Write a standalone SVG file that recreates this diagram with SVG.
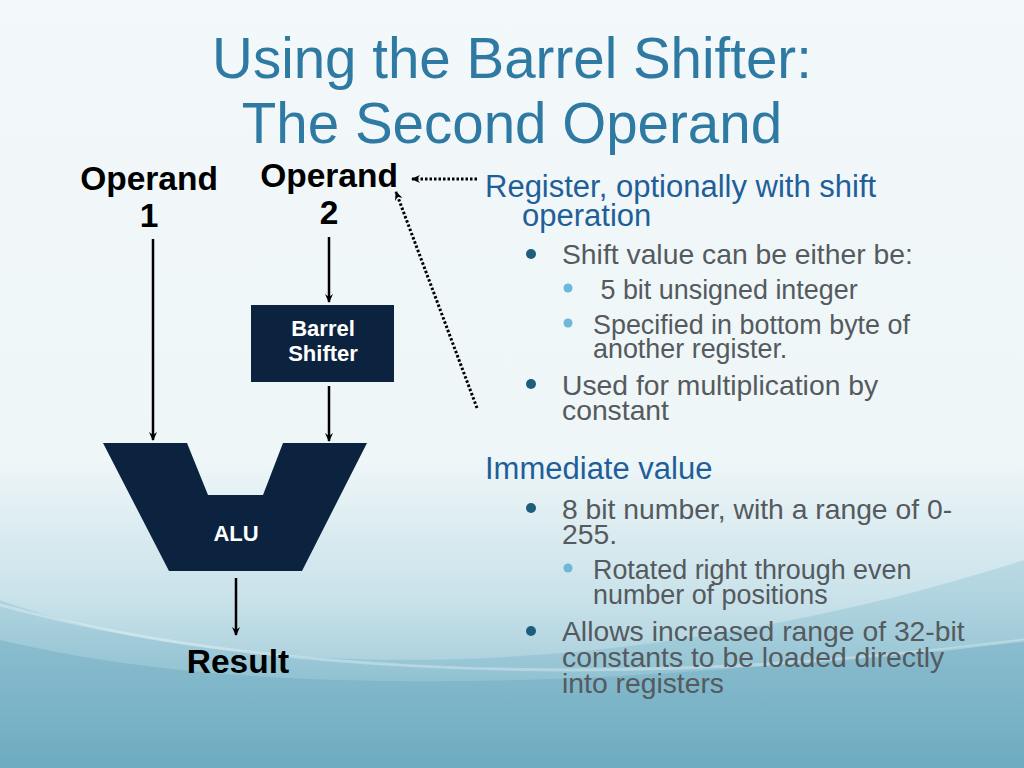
<svg xmlns="http://www.w3.org/2000/svg" width="1024" height="768" viewBox="0 0 1024 768">
<defs>
<linearGradient id="bg" x1="0" y1="0" x2="0" y2="1">
<stop offset="0" stop-color="#f3f8fa"/>
<stop offset="0.6" stop-color="#eef6f8"/>
<stop offset="0.78" stop-color="#c9e2ea"/>
<stop offset="1" stop-color="#7db6c9"/>
</linearGradient>
<linearGradient id="wave" x1="0" y1="0" x2="0" y2="1">
<stop offset="0" stop-color="#9cc9d8"/>
<stop offset="1" stop-color="#62a6bd"/>
</linearGradient>
<marker id="ah" markerWidth="10" markerHeight="10" refX="8" refY="5" orient="auto" markerUnits="userSpaceOnUse">
<path d="M0,1 L9,5 L0,9 L3,5 Z" fill="#000"/>
</marker>
<style>
.title{font-family:"Liberation Sans",Arial,sans-serif;font-size:56.5px;fill:#2e7aa3;text-anchor:middle}
.lbl{font-family:"Liberation Sans",Arial,sans-serif;font-weight:bold;fill:#000;text-anchor:middle;font-size:33.5px}
.wl{font-family:"Liberation Sans",Arial,sans-serif;font-weight:bold;fill:#fff;text-anchor:middle;font-size:22px}
.h1{font-family:"Liberation Sans",Arial,sans-serif;font-size:31px;fill:#1f5f99}
.b1{font-family:"Liberation Sans",Arial,sans-serif;font-size:28.3px;fill:#555a5e}
.b2{font-family:"Liberation Sans",Arial,sans-serif;font-size:26.9px;fill:#555a5e}
.d1{fill:#1c5e7c}
.d2{fill:#6db8da}
.blk{fill:#0c2340}
.solid{stroke:#000;stroke-width:2.5;fill:none}
.dot{stroke:#000;stroke-width:3;fill:none;stroke-dasharray:2.5 2}
</style>
</defs>
<rect width="1024" height="768" fill="url(#bg)"/>
<path d="M0,600 C250,690 650,680 1024,560 L1024,768 L0,768 Z" fill="url(#wave)" opacity="0.45"/>
<path d="M0,640 C250,700 600,690 1024,640 L1024,768 L0,768 Z" fill="#6aa8be" opacity="0.4"/>
<path d="M0,605 C200,660 550,700 1024,640" fill="none" stroke="#ffffff" stroke-opacity="0.3" stroke-width="3"/>

<text class="title" x="512" y="78">Using the Barrel Shifter:</text>
<text class="title" x="512" y="143">The Second Operand</text>

<g id="operand1">
<text class="lbl" x="149" y="190">Operand</text>
<text class="lbl" x="149" y="227">1</text>
</g>
<g id="operand2">
<text class="lbl" x="329" y="187">Operand</text>
<text class="lbl" x="329" y="224">2</text>
</g>
<g id="barrel">
<rect class="blk" x="251" y="305" width="143" height="77"/>
<text class="wl" x="323" y="336">Barrel</text>
<text class="wl" x="323" y="361">Shifter</text>
</g>
<g id="alu">
<path class="blk" d="M103,443 L187,443 L208,495 L263,495 L283,443 L367,443 L302,571 L169,571 Z"/>
<text class="wl" x="236" y="541">ALU</text>
</g>
<g id="result">
<text class="lbl" x="238" y="673">Result</text>
</g>

<g id="connectors">
<line class="solid" x1="153" y1="239" x2="153" y2="440" marker-end="url(#ah)"/>
<line class="solid" x1="329" y1="237" x2="329" y2="302" marker-end="url(#ah)"/>
<line class="solid" x1="329" y1="386" x2="329" y2="441" marker-end="url(#ah)"/>
<line class="solid" x1="236" y1="578" x2="236" y2="635" marker-end="url(#ah)"/>
<line class="dot" x1="477" y1="179" x2="412" y2="179" marker-end="url(#ah)"/>
<line class="dot" x1="477" y1="408" x2="396" y2="192" marker-end="url(#ah)"/>
</g>

<g id="bullets">
<text class="h1" x="485" y="197">Register, optionally with shift</text>
<text class="h1" x="522" y="226">operation</text>
<circle class="d1" cx="531" cy="254" r="5"/>
<text class="b1" x="562" y="264">Shift value can be either be:</text>
<circle class="d2" cx="568" cy="288" r="4.5"/>
<text class="b2" x="593" y="299" xml:space="preserve"> 5 bit unsigned integer</text>
<circle class="d2" cx="568" cy="323" r="4.5"/>
<text class="b2" x="593" y="334">Specified in bottom byte of</text>
<text class="b2" x="593" y="358">another register.</text>
<circle class="d1" cx="531" cy="384" r="5"/>
<text class="b1" x="562" y="395">Used for multiplication by</text>
<text class="b1" x="562" y="420">constant</text>

<text class="h1" x="485" y="479">Immediate value</text>
<circle class="d1" cx="531" cy="508" r="5"/>
<text class="b1" x="562" y="519">8 bit number, with a range of 0-</text>
<text class="b1" x="562" y="544">255.</text>
<circle class="d2" cx="568" cy="568" r="4.5"/>
<text class="b2" x="593" y="579">Rotated right through even</text>
<text class="b2" x="593" y="604">number of positions</text>
<circle class="d1" cx="531" cy="631" r="5"/>
<text class="b1" x="562" y="641">Allows increased range of 32-bit</text>
<text class="b1" x="562" y="667">constants to be loaded directly</text>
<text class="b1" x="562" y="693">into registers</text>
</g>
</svg>
